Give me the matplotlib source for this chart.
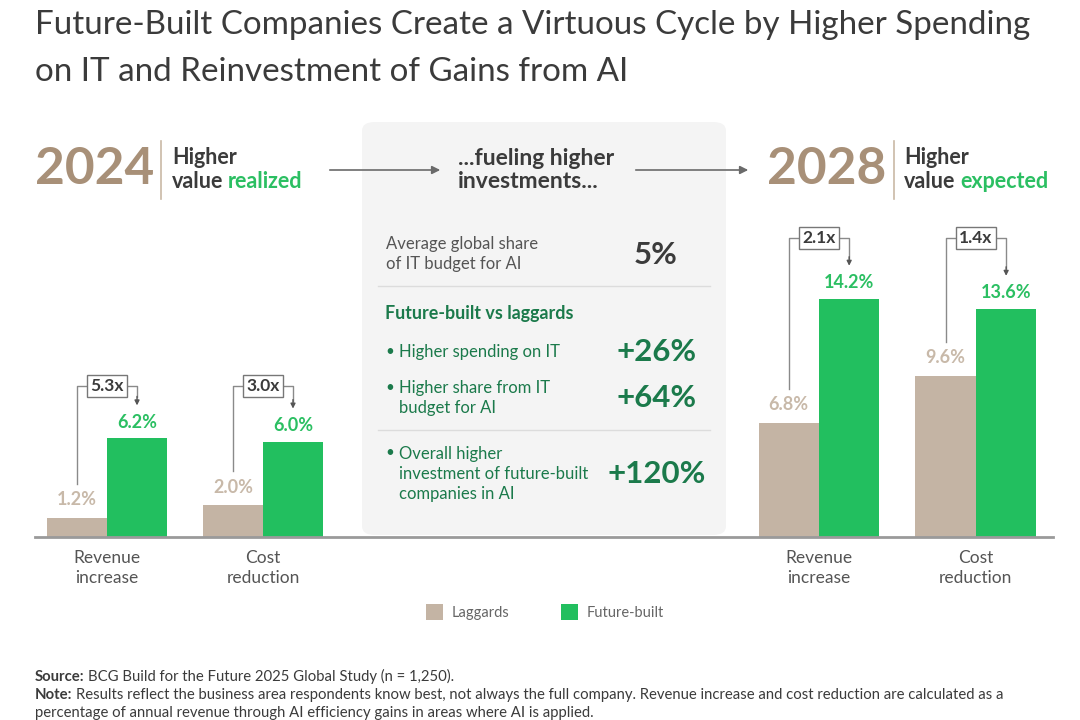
import matplotlib
matplotlib.use("Agg")
import matplotlib.pyplot as plt
from matplotlib.patches import FancyBboxPatch, FancyArrowPatch
from matplotlib.lines import Line2D

plt.rcParams['font.family'] = ['Lato', 'DejaVu Sans']

# data
categories = ['Revenue\nincrease', 'Cost\nreduction']
laggards_2024 = [1.2, 2.0]
future_2024 = [6.2, 6.0]
multiples_2024 = ['5.3x', '3.0x']
laggards_2028 = [6.8, 9.6]
future_2028 = [14.2, 13.6]
multiples_2028 = ['2.1x', '1.4x']
series_names = ['Laggards', 'Future-built']

avg_share = '5%'
middle_items = [('Higher spending on IT', '+26%'),
                ('Higher share from IT\nbudget for AI', '+64%'),
                ('Overall higher\ninvestment of future-built\ncompanies in AI', '+120%')]

TAN = '#c4b4a4'
TAN_TXT = '#c8b9a9'
GREEN = '#22bf5f'
GREEN_TXT = '#2bbf62'
DKGREEN = '#1b7a4b'
YEAR = '#a89078'
DARK = '#3b3b3b'
GRAY = '#555555'
W, H = 1080, 720

fig = plt.figure(figsize=(10.8, 7.2), dpi=100)


def fx(x):
    return x / W


def fy(y):
    return 1 - y / H


# title
fig.text(fx(35), fy(25), 'Future-Built Companies Create a Virtuous Cycle by Higher Spending',
         fontsize=23.9, color=DARK, va='center', ha='left')
fig.text(fx(35), fy(72), 'on IT and Reinvestment of Gains from AI',
         fontsize=23.9, color=DARK, va='center', ha='left')

# middle panel background
box = FancyBboxPatch((fx(362), fy(535)), fx(726) - fx(362), fy(122) - fy(535),
                     boxstyle='round,pad=0,rounding_size=0.012', transform=fig.transFigure,
                     facecolor='#f4f4f4', edgecolor='none', zorder=0)
fig.patches.append(box)

# baseline across the whole chart
fig.add_artist(Line2D([fx(35), fx(1053)], [fy(537), fy(537)], color='#9a9a9a', lw=2,
                      transform=fig.transFigure))


def draw_panel(rect, ymax, lag, fut, mults, top_px):
    ax = fig.add_axes(rect)
    ax.set_facecolor('none')
    x = [0, 1]
    w = 0.385
    ax.bar([i - w / 2 for i in x], lag, w, color=TAN, label=series_names[0])
    ax.bar([i + w / 2 for i in x], fut, w, color=GREEN, label=series_names[1])
    height_px = rect[3] * H
    upp = ymax / height_px
    for i in x:
        ax.text(i - w / 2, lag[i] + 18 * upp, f'{lag[i]:.1f}%', ha='center', va='center',
                fontsize=13, fontweight='bold', color=TAN_TXT)
        ax.text(i + w / 2, fut[i] + 16 * upp, f'{fut[i]:.1f}%', ha='center', va='center',
                fontsize=13, fontweight='bold', color=GREEN_TXT)
        # bracket
        y0 = lag[i] + 34 * upp
        ytop = top_px * upp
        ytip = fut[i] + 33 * upp
        xl, xr = i - w / 2, i + w / 2
        ax.plot([xl, xl, xr, xr], [y0, ytop, ytop, ytip + 8 * upp], color='#8a8a8a', lw=1,
                clip_on=False)
        ax.annotate('', xy=(xr, ytip), xytext=(xr, ytip + 9 * upp),
                    arrowprops=dict(arrowstyle='-|>', color='#555555', lw=1,
                                    mutation_scale=7, shrinkA=0, shrinkB=0),
                    annotation_clip=False)
        ax.text(i, ytop, mults[i], ha='center', va='center', fontsize=12.5, fontweight='bold',
                color=DARK, bbox=dict(boxstyle='square,pad=0.2', fc='white', ec='#777777', lw=1))
        ax.text(i, -13 * upp, categories[i], ha='center', va='top', fontsize=12.5, color=GRAY,
                linespacing=1.27)
    ax.set_ylim(0, ymax)
    return ax


ax1 = draw_panel([fx(35), fy(537), (360 - 35) / W, 159 / H], 10, laggards_2024, future_2024,
                 multiples_2024, 151)
ax1.set_xlim(-0.4615, 1.622)
ax2 = draw_panel([fx(740), fy(537), (1053 - 740) / W, 302 / H], 18, laggards_2028, future_2028,
                 multiples_2028, 299)
ax2.set_xlim(-0.503, 1.491)
for ax in (ax1, ax2):
    ax.axis('off')


def header(x_year, x_sep, x_txt, year, word):
    fig.text(fx(x_year), fy(170), year, fontsize=37, fontweight='bold', color=YEAR,
             va='center', ha='left')
    fig.add_artist(Line2D([fx(x_sep), fx(x_sep)], [fy(141), fy(199)], color='#c9b9a6', lw=1.2,
                          transform=fig.transFigure))
    fig.text(fx(x_txt), fy(157), 'Higher', fontsize=15.5, fontweight='bold', color=DARK,
             va='center', ha='left')
    t = fig.text(fx(x_txt), fy(182), 'value', fontsize=15.5, fontweight='bold', color=DARK,
                 va='center', ha='left')
    plt.annotate(word, xy=(1, 0), xycoords=t, xytext=(3.5, 0), textcoords='offset points',
                 fontsize=15.5, fontweight='bold', color=GREEN_TXT, va='bottom', ha='left',
                 annotation_clip=False)


header(35, 161, 172, '2024', 'realized')
header(767, 894, 904, '2028', 'expected')

# arrows between headers
for x0, x1 in ((327, 443), (633, 751)):
    fig.add_artist(FancyArrowPatch((fx(x0), fy(170)), (fx(x1), fy(170)),
                                   transform=fig.transFigure, arrowstyle='-|>',
                                   mutation_scale=12, color='#6a6a6a', lw=1.2))

# middle panel text
fig.text(fx(458), fy(170), '...fueling higher\ninvestments...', fontsize=16.5, fontweight='bold',
         color=DARK, va='center', ha='left', linespacing=1.1)
fig.text(fx(386), fy(254), 'Average global share\nof IT budget for AI', fontsize=12, color=GRAY,
         va='center', ha='left', linespacing=1.25)
fig.text(fx(656), fy(255), avg_share, fontsize=22.5, fontweight='bold', color=DARK,
         va='center', ha='center')
for yy in (286, 430):
    fig.add_artist(Line2D([fx(378), fx(710)], [fy(yy), fy(yy)], color='#dcdcdc', lw=1,
                          transform=fig.transFigure))
fig.text(fx(385), fy(314), 'Future-built vs laggards', fontsize=12.9, fontweight='bold',
         color=DKGREEN, va='center', ha='left')
item_y = [352, 398, 474]
for (label, val), yy in zip(middle_items, item_y):
    fig.text(fx(385), fy(yy - (label.count('\n')) * 10.5), '•', fontsize=11, color=DKGREEN,
             va='center', ha='left')
    fig.text(fx(399), fy(yy), label, fontsize=12, color=DKGREEN, va='center', ha='left',
             linespacing=1.3)
    fig.text(fx(657), fy(yy), val, fontsize=22.5, fontweight='bold', color=DKGREEN,
             va='center', ha='center')

# legend
h = ax1.get_legend_handles_labels()
fig.legend(h[0], h[1], loc='center', bbox_to_anchor=(fx(545), fy(612)), ncol=2, frameon=False,
           fontsize=10.5, handlelength=1.2, handleheight=1.4, columnspacing=3.5,
           handletextpad=0.6, labelcolor='#666666')

# footer
foot = dict(fontsize=10.7, color=DARK, ha='left')
s = fig.text(fx(35), fy(677), 'Source:', fontweight='bold', va='center', **foot)
plt.annotate('BCG Build for the Future 2025 Global Study (n = 1,250).', xy=(1, 0),
             xycoords=s, xytext=(2.5, 0), textcoords='offset points', va='bottom',
             annotation_clip=False, **foot)
n = fig.text(fx(35), fy(695), 'Note:', fontweight='bold', va='center', **foot)
plt.annotate('Results reflect the business area respondents know best, not always the full '
             'company. Revenue increase and cost reduction are calculated as a',
             xy=(1, 0), xycoords=n, xytext=(2.5, 0), textcoords='offset points', va='bottom',
             annotation_clip=False, **foot)
fig.text(fx(35), fy(713), 'percentage of annual revenue through AI efficiency gains in areas '
         'where AI is applied.', va='center', **foot)

fig.savefig('out.png', dpi=100)
